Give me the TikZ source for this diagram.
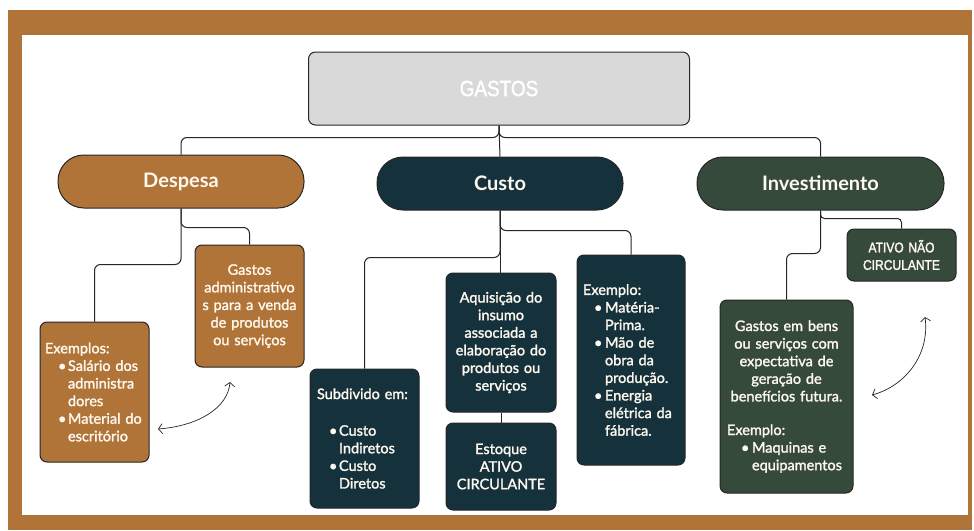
\documentclass[tikz,border=0pt]{standalone}
\usepackage{fontspec}
\setmainfont{Lato}[FakeBold=1.6]
\newfontfamily\headfam{Lato Bold}
\newfontfamily\narrowf[FakeStretch=0.86,FakeBold=1.8]{Liberation Sans}
\usetikzlibrary{arrows.meta}
\definecolor{framec}{HTML}{B07438}
\definecolor{brownc}{HTML}{B07438}
\definecolor{tealc}{HTML}{15323C}
\definecolor{greenc}{HTML}{354A3A}
\definecolor{grayc}{HTML}{D9D9D9}
\definecolor{linec}{HTML}{262626}
\definecolor{txtc}{HTML}{FFF8EE}
\newcommand{\bodyf}{\fontsize{14.5}{17.6}\selectfont}
\newcommand{\headf}{\headfam\fontsize{20}{24}\selectfont}
\newcommand{\bu}[1]{\makebox[#1][l]{\textbullet}}
\tikzset{
  box/.style={draw=linec, line width=1pt, rounded corners=7pt, text=txtc, inner xsep=5pt, inner ysep=0pt, font=\bodyf},
  pill/.style={draw=linec, line width=1pt, rounded corners=26pt, text=txtc, font=\headf, minimum width=246pt, minimum height=53pt},
  conn/.style={draw=linec, line width=1pt, rounded corners=6pt},
  dbl/.style={draw=linec, line width=0.7pt, {Straight Barb[length=4pt,width=10pt]}-{Straight Barb[length=4pt,width=10pt]}}
}
\begin{document}
\begin{tikzpicture}[x=1pt,y=-1pt]
\useasboundingbox (0,0) rectangle (974,530);
\fill[white] (0,0) rectangle (974,530);
\fill[framec] (8,10) rectangle (972,530);
\fill[white] (22,35) rectangle (968,515);

% top
\node[box, fill=grayc, text=white, minimum width=381pt, minimum height=73pt, font=\narrowf\fontsize{22}{24}\selectfont] (gastos) at (499,88.5) {GASTOS};

% level 1
\node[pill, fill=brownc] (desp) at (181,181.5) {Despesa};
\node[pill, fill=tealc] (custo) at (500,183.5) {Custo};
\node[pill, fill=greenc, minimum width=247pt] (inv) at (820.5,183.5) {Investimento};

% Despesa children
\node[box, fill=brownc, minimum width=109pt, minimum height=122pt, text width=99pt, align=center] (gadm) at (249.5,306)
  {Gastos\\administrativo\\s para a venda\\de produtos\\ou serviços};
\node[box, fill=brownc, minimum width=109pt, minimum height=140pt, text width=99pt, align=left] (exd) at (94.5,392)
  {Exemplos:\\
   \hspace*{13pt}\bu{10pt}Salário dos\\
   \hspace*{23pt}administra\\
   \hspace*{23pt}dores\\
   \hspace*{13pt}\bu{10pt}Material do\\
   \hspace*{23pt}escritório};

% Custo children
\node[box, fill=tealc, minimum width=109pt, minimum height=139pt, inner xsep=7pt, text width=95pt, align=left] (subd) at (364.5,438.5)
  {Subdivido em:\\[19pt]
   \hspace*{12pt}\bu{10pt}Custo\\
   \hspace*{22pt}Indiretos\\
   \hspace*{12pt}\bu{10pt}Custo\\
   \hspace*{22pt}Diretos};
\node[box, fill=tealc, minimum width=110pt, minimum height=139pt, text width=100pt, align=center] (aq) at (501,342.5)
  {Aquisição do\\insumo\\associada a\\elaboração do\\produtos ou\\serviços};
\node[box, fill=tealc, minimum width=110pt, minimum height=87pt, text width=100pt, align=center] (est) at (501,466.5)
  {Estoque\\ATIVO\\CIRCULANTE};
\node[box, fill=tealc, minimum width=108pt, minimum height=210pt, inner xsep=6pt, text width=96pt, align=left] (exc) at (631,360)
  {Exemplo:\\
   \hspace*{11pt}\bu{11pt}Matéria-\\
   \hspace*{22pt}Prima.\\
   \hspace*{11pt}\bu{11pt}Mão de\\
   \hspace*{22pt}obra da\\
   \hspace*{22pt}produção.\\
   \hspace*{11pt}\bu{11pt}Energia\\
   \hspace*{22pt}elétrica da\\
   \hspace*{22pt}fábrica.};

% Investimento children
\node[box, fill=greenc, minimum width=109pt, minimum height=52pt, text width=99pt, align=center, font=\narrowf\fontsize{14}{17.5}\selectfont] (ativo) at (901.5,255)
  {ATIVO NÃO\\CIRCULANTE};
\node[box, fill=greenc, minimum width=133pt, minimum height=193pt, inner xsep=7pt, text width=119pt, align=center] (gbens) at (786.5,396.5)
  {Gastos em bens\\ou serviços com\\expectativa de\\geração de\\benefícios futura.\\[16pt]
   \makebox[119pt][l]{Exemplo:}\\
   \makebox[119pt][l]{\hspace*{14pt}\bu{11pt}Maquinas e}\\
   \makebox[119pt][l]{\hspace*{25pt}equipamentos}};

% connectors
\draw[conn] (gastos.south) -- ++(0,12) -| (desp.north);
\draw[conn] (gastos.south) -- ++(0,12) -| (inv.north);
\draw[conn] (gastos.south) -- (custo.north);

\draw[conn] (desp.south) -- ++(0,19) -| (gadm.north);
\draw[conn] (desp.south) -- ++(0,56) -| (exd.north);

\draw[conn] (custo.south) -- ++(0,20) -| (exc.north);
\draw[conn] (custo.south) -- ++(0,47) -| (subd.north);
\draw[conn] (custo.south) -- (custo.south |- aq.north);
\draw[conn] (aq.south) -- (aq.south |- est.north);

\draw[conn, rounded corners=4pt] (inv.south) -- ++(0,8) -| (ativo.north);
\draw[conn] (inv.south) -- ++(0,43) -| (gbens.north);

% curved double arrows
\coordinate (a1) at (158,429);
\coordinate (a2) at (230,382);
\coordinate (b1) at (925,317);
\coordinate (b2) at (872,395);
\draw[dbl] (a1) .. controls (198,426) and (228,408) .. (a2);
\draw[dbl] (b1) .. controls (930,355) and (905,386) .. (b2);
\end{tikzpicture}
\end{document}
